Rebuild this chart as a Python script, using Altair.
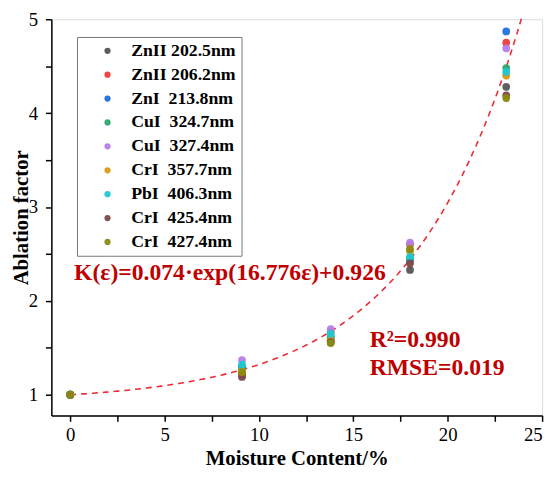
import altair as alt
import pandas as pd
import numpy as np

series = ["ZnII 202.5nm", "ZnII 206.2nm", "ZnI\u00a0\u00a0213.8nm", "CuI\u00a0\u00a0324.7nm",
          "CuI\u00a0\u00a0327.4nm", "CrI\u00a0\u00a0357.7nm", "PbI\u00a0\u00a0406.3nm",
          "CrI\u00a0\u00a0425.4nm", "CrI\u00a0\u00a0427.4nm"]
colors = ["#555555", "#ee3b3b", "#1f6fe0", "#2fa56b", "#b57ee6", "#d69b12", "#1ec8d2", "#7b4a4a", "#8a8a10"]
moisture = [0.0, 9.1, 13.8, 18.0, 23.1]
vals = {
    series[0]: [1.0, 1.21, 1.58, 2.33, 4.28],
    series[1]: [1.0, 1.22, 1.67, 2.60, 4.75],
    series[2]: [1.0, 1.30, 1.60, 2.43, 4.87],
    series[3]: [1.0, 1.28, 1.62, 2.45, 4.48],
    series[4]: [1.0, 1.37, 1.70, 2.62, 4.69],
    series[5]: [1.0, 1.25, 1.58, 2.53, 4.40],
    series[6]: [1.0, 1.32, 1.65, 2.47, 4.44],
    series[7]: [1.0, 1.19, 1.56, 2.40, 4.19],
    series[8]: [1.0, 1.24, 1.55, 2.55, 4.16],
}
fit_a, fit_b, fit_c = 0.074, 16.776, 0.926
x_ticks = [0, 2.5, 5, 7.5, 10, 12.5, 15, 17.5, 20, 22.5, 25]
y_ticks = [1, 1.5, 2, 2.5, 3, 3.5, 4, 4.5, 5]

rows = []
for s in series:
    for x, y in zip(moisture, vals[s]):
        rows.append({"x": x, "y": y, "s": s})
df = pd.DataFrame(rows)

xs = np.linspace(0, 23.9, 200)
curve = pd.DataFrame({"x": xs, "y": fit_a * np.exp(fit_b * xs / 100) + fit_c})

FONT = "Liberation Serif"
xscale = alt.Scale(domain=[-1, 25], nice=False, zero=False)
yscale = alt.Scale(domain=[0.78, 5], nice=False, zero=False)

base_axis = dict(domainColor="black", domainWidth=1.5, tickColor="black", tickWidth=1.5,
                 tickSize=6, labelFont=FONT, labelFontSize=19, labelColor="black", grid=False,
                 titleFont=FONT, titleFontSize=21, titleFontWeight="bold", titleColor="black",
                 format="~g")

pts = alt.Chart(df).mark_circle(size=62, opacity=0.95).encode(
    x=alt.X("x:Q", scale=xscale,
            axis=alt.Axis(values=x_ticks, labelExpr="datum.value % 5 == 0 ? datum.label : ''",
                          labelPadding=4, title="Moisture Content/%", titlePadding=4, **base_axis)),
    y=alt.Y("y:Q", scale=yscale,
            axis=alt.Axis(values=y_ticks, labelExpr="datum.value % 1 == 0 ? datum.label : ''",
                          labelPadding=8, title="Ablation factor", titleX=-30, titleY=201,
                          titleBaseline="middle", titleAlign="center", **base_axis)),
    color=alt.Color("s:N", scale=alt.Scale(domain=series, range=colors),
                    legend=alt.Legend(title=None, orient="none", legendX=26, legendY=18,
                                      labelFont=FONT, labelFontSize=18, labelFontWeight="bold",
                                      labelColor="black", symbolType="circle", symbolSize=40,
                                      symbolStrokeWidth=0, rowPadding=6.25, padding=5,
                                      symbolOffset=17, labelOffset=15,
                                      strokeColor="#777777", fillColor="white")),
)

line = alt.Chart(curve).mark_line(color="#ee2a35", strokeDash=[6, 5], strokeWidth=1.6).encode(
    x=alt.X("x:Q", scale=xscale), y=alt.Y("y:Q", scale=yscale))

ann_color = "#c00000"
eq = alt.Chart(pd.DataFrame({"t": ["K(\u03b5)=0.074\u00b7exp(16.776\u03b5)+0.926"]})).mark_text(
    font=FONT, fontSize=24, fontWeight="bold", color=ann_color, align="left", baseline="alphabetic"
).encode(x=alt.value(23), y=alt.value(265), text="t:N")
r2 = alt.Chart(pd.DataFrame({"t": ["R\u00b2=0.990", "RMSE=0.019"], "py": [333, 361]})).mark_text(
    font=FONT, fontSize=24, fontWeight="bold", color=ann_color, align="left", baseline="alphabetic"
).encode(x=alt.value(323), y=alt.Y("py:Q", scale=None), text="t:N")

chart = alt.layer(line, pts, eq, r2).properties(
    width=498, height=402,
    autosize=alt.AutoSizeParams(type="none"),
    padding={"left": 44, "top": 8, "right": 8, "bottom": 53},
).configure_view(stroke="black", strokeWidth=1.5).configure(background="white")

chart.save("out.html", embed_options={"renderer": "svg", "actions": False})
